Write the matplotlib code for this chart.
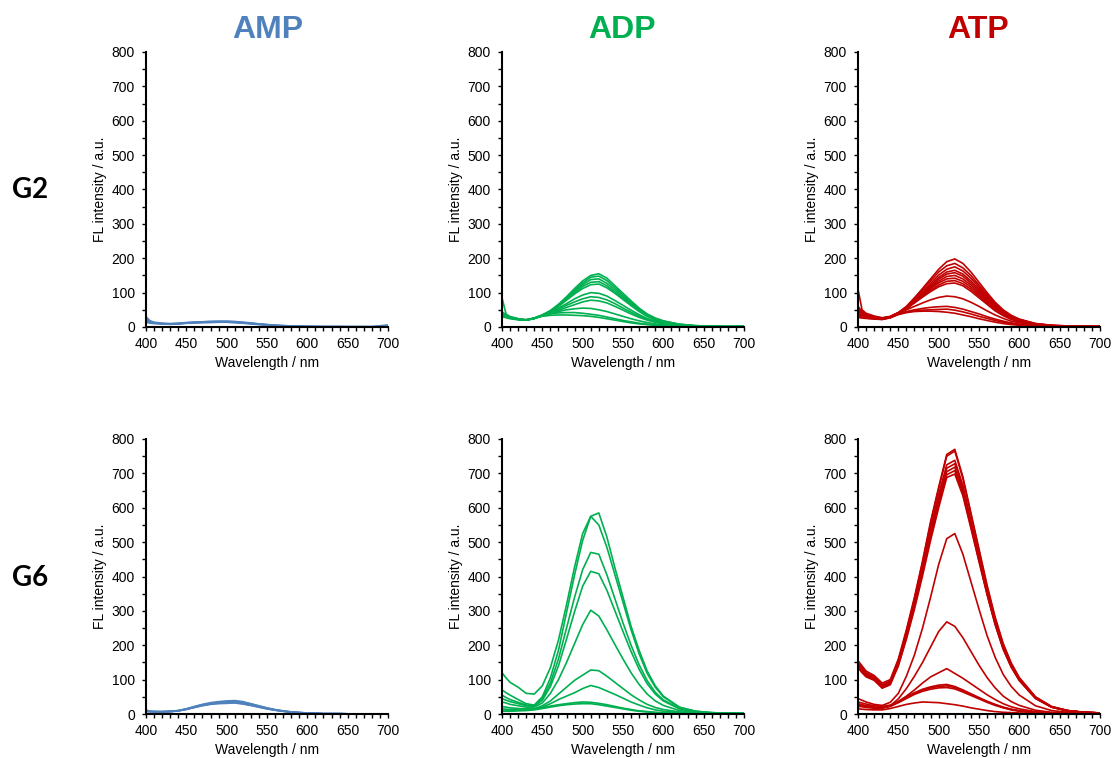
import matplotlib
matplotlib.use("Agg")
import matplotlib.pyplot as plt
from matplotlib.ticker import MultipleLocator

plt.rcParams['font.family'] = ['Liberation Sans', 'DejaVu Sans']

# ---------------- data ----------------
WL = [400, 405, 410, 420, 430, 440, 450, 460, 470, 480, 490, 500, 510, 520,
      530, 540, 550, 560, 570, 580, 590, 600, 620, 640, 660, 680, 700]

AMP_G2 = [
    [30, 18, 14, 11, 10, 11, 13, 14, 15, 16, 16, 16, 15, 13, 11, 9, 7, 5, 4, 3, 2, 2, 1, 1, 1, 1, 6],
    [22, 15, 12, 10, 9, 10, 12, 13, 14, 15, 15, 15, 14, 12, 10, 8, 6, 5, 3, 2, 2, 1, 1, 1, 1, 1, 3],
    [18, 13, 11, 9, 9, 10, 12, 14, 15, 16, 17, 17, 16, 14, 12, 9, 7, 5, 4, 3, 2, 2, 1, 1, 1, 1, 2],
    [14, 11, 10, 9, 8, 9, 11, 12, 13, 14, 14, 14, 13, 12, 10, 8, 6, 4, 3, 2, 2, 1, 1, 1, 0, 0, 1],
    [25, 16, 12, 10, 8, 9, 11, 12, 13, 13, 14, 14, 13, 11, 9, 7, 6, 4, 3, 2, 1, 1, 1, 1, 0, 0, 2],
]

ADP_G2 = [
    [45, 35, 30, 24, 21, 26, 35, 48, 66, 88, 112, 134, 150, 155, 142, 120, 98, 76, 55, 38, 26, 18, 8, 4, 2, 1, 2],
    [40, 33, 28, 23, 20, 25, 34, 47, 64, 85, 108, 128, 145, 148, 135, 114, 93, 72, 52, 36, 25, 17, 8, 4, 2, 1, 2],
    [85, 38, 30, 24, 21, 26, 35, 46, 62, 82, 104, 123, 138, 140, 127, 108, 88, 68, 49, 34, 23, 16, 7, 3, 2, 1, 1],
    [38, 32, 27, 22, 20, 25, 34, 46, 62, 80, 100, 118, 130, 132, 120, 102, 84, 65, 47, 33, 22, 15, 7, 3, 2, 1, 1],
    [42, 34, 29, 23, 20, 25, 34, 45, 60, 78, 96, 112, 123, 125, 114, 98, 80, 62, 45, 31, 21, 14, 6, 3, 2, 1, 1],
    [35, 30, 26, 22, 20, 25, 34, 43, 55, 68, 82, 93, 100, 98, 90, 77, 63, 49, 36, 25, 17, 12, 5, 3, 1, 1, 1],
    [40, 32, 27, 22, 20, 25, 34, 42, 52, 63, 73, 82, 88, 86, 79, 68, 55, 43, 32, 22, 15, 10, 5, 2, 1, 1, 1],
    [36, 30, 26, 22, 20, 25, 33, 40, 48, 57, 65, 73, 78, 76, 70, 60, 49, 38, 28, 20, 14, 9, 4, 2, 1, 1, 1],
    [38, 31, 27, 23, 21, 26, 34, 40, 45, 50, 53, 55, 54, 50, 45, 38, 31, 24, 18, 13, 9, 6, 3, 1, 1, 1, 1],
    [33, 29, 26, 22, 20, 25, 33, 38, 41, 42, 42, 40, 37, 34, 29, 24, 19, 15, 11, 8, 6, 4, 2, 1, 1, 1, 1],
    [30, 27, 24, 21, 20, 25, 31, 34, 35, 35, 34, 33, 31, 28, 24, 20, 16, 12, 9, 7, 5, 3, 2, 1, 1, 1, 1],
]

ATP_G2 = [
    [60, 45, 38, 30, 26, 30, 42, 60, 85, 112, 140, 168, 190, 198, 185, 160, 130, 100, 72, 50, 34, 23, 10, 5, 3, 2, 2],
    [110, 50, 40, 32, 27, 31, 42, 58, 82, 108, 134, 160, 178, 185, 172, 150, 122, 94, 68, 47, 32, 22, 10, 5, 3, 2, 2],
    [50, 40, 34, 28, 24, 29, 40, 56, 78, 102, 127, 151, 168, 175, 163, 142, 116, 89, 64, 45, 31, 21, 9, 4, 3, 2, 2],
    [55, 42, 36, 29, 25, 30, 41, 56, 76, 99, 122, 144, 160, 165, 154, 134, 110, 85, 61, 43, 29, 20, 9, 4, 2, 2, 2],
    [45, 38, 33, 27, 24, 29, 40, 55, 74, 96, 118, 139, 154, 158, 148, 128, 105, 81, 58, 41, 28, 19, 9, 4, 2, 2, 2],
    [40, 35, 31, 26, 23, 28, 39, 53, 72, 93, 114, 133, 147, 150, 140, 122, 100, 77, 55, 39, 27, 18, 8, 4, 2, 2, 2],
    [48, 39, 34, 28, 25, 30, 41, 55, 73, 92, 112, 128, 140, 142, 133, 116, 95, 73, 52, 37, 25, 17, 8, 4, 2, 2, 2],
    [35, 32, 29, 25, 23, 28, 40, 54, 71, 89, 107, 122, 133, 135, 126, 110, 90, 69, 50, 35, 24, 16, 7, 3, 2, 1, 2],
    [42, 36, 32, 27, 24, 29, 40, 53, 70, 87, 103, 117, 126, 128, 120, 104, 85, 66, 47, 33, 22, 15, 7, 3, 2, 1, 2],
    [38, 33, 30, 26, 24, 29, 40, 50, 60, 70, 79, 86, 90, 88, 82, 72, 60, 47, 35, 25, 17, 12, 6, 3, 2, 1, 1],
    [35, 31, 28, 25, 23, 28, 38, 45, 50, 54, 57, 59, 60, 57, 52, 45, 38, 30, 23, 17, 12, 8, 4, 2, 1, 1, 1],
    [30, 28, 26, 24, 22, 27, 37, 43, 47, 49, 50, 51, 52, 49, 44, 38, 31, 25, 19, 14, 10, 7, 3, 2, 1, 1, 1],
    [28, 26, 25, 23, 22, 27, 36, 42, 45, 46, 46, 45, 43, 40, 35, 30, 24, 19, 14, 10, 7, 5, 3, 1, 1, 1, 1],
]

AMP_G6 = [
    [10, 8, 7, 7, 7, 9, 14, 20, 26, 30, 33, 35, 37, 34, 29, 23, 17, 12, 9, 6, 4, 3, 1, 1, 0, 0, 0],
    [8, 7, 7, 7, 8, 10, 15, 21, 27, 31, 34, 36, 34, 30, 25, 20, 15, 11, 8, 5, 4, 3, 1, 1, 0, 0, 0],
    [12, 8, 7, 6, 7, 9, 14, 19, 25, 29, 32, 33, 35, 32, 27, 21, 16, 12, 8, 6, 4, 3, 1, 1, 0, 0, 0],
    [9, 7, 6, 6, 7, 9, 13, 19, 24, 28, 30, 31, 32, 29, 25, 20, 15, 11, 8, 5, 4, 3, 1, 1, 0, 0, 0],
    [7, 7, 7, 7, 8, 10, 15, 22, 28, 33, 36, 38, 39, 36, 30, 24, 18, 13, 9, 6, 4, 3, 1, 1, 0, 0, 0],
]

ADP_G6 = [
    [70, 62, 55, 42, 30, 26, 50, 105, 185, 295, 405, 505, 575, 585, 515, 425, 340, 255, 185, 125, 82, 52, 20, 8, 4, 2, 2],
    [120, 105, 92, 78, 60, 58, 82, 135, 215, 318, 428, 525, 575, 550, 485, 405, 325, 245, 175, 118, 78, 50, 19, 8, 4, 2, 2],
    [55, 48, 42, 34, 26, 24, 45, 90, 160, 250, 340, 420, 470, 465, 405, 335, 265, 200, 143, 97, 63, 41, 16, 7, 3, 2, 2],
    [45, 40, 36, 30, 24, 22, 40, 80, 140, 218, 298, 372, 415, 408, 360, 300, 240, 182, 130, 88, 58, 38, 15, 6, 3, 2, 2],
    [35, 32, 28, 24, 20, 20, 32, 60, 100, 150, 205, 260, 302, 285, 245, 202, 160, 120, 86, 58, 38, 25, 10, 5, 2, 2, 1],
    [22, 20, 18, 16, 15, 15, 24, 38, 58, 78, 98, 113, 128, 126, 110, 92, 74, 56, 41, 28, 19, 13, 6, 3, 2, 1, 1],
    [15, 14, 13, 13, 13, 14, 20, 30, 42, 52, 62, 74, 83, 77, 67, 57, 46, 35, 26, 18, 12, 8, 4, 2, 1, 1, 1],
    [10, 10, 10, 11, 12, 14, 18, 23, 27, 30, 33, 35, 34, 31, 27, 22, 17, 13, 9, 7, 5, 3, 2, 1, 1, 1, 1],
    [8, 8, 8, 9, 10, 12, 16, 20, 24, 27, 29, 30, 30, 27, 23, 19, 15, 11, 8, 6, 4, 3, 2, 1, 1, 1, 1],
]

ATP_G6 = [
    [155, 140, 125, 112, 90, 100, 160, 245, 340, 445, 560, 660, 755, 770, 690, 585, 480, 375, 282, 205, 148, 106, 50, 22, 10, 5, 3],
    [150, 135, 120, 108, 85, 96, 155, 240, 335, 440, 555, 655, 750, 765, 685, 580, 475, 370, 278, 202, 146, 104, 49, 21, 10, 5, 3],
    [148, 132, 118, 106, 84, 95, 152, 235, 328, 430, 540, 638, 725, 738, 665, 562, 460, 360, 270, 196, 142, 101, 48, 21, 10, 5, 3],
    [145, 130, 115, 104, 82, 93, 150, 232, 322, 422, 530, 628, 715, 728, 658, 556, 455, 355, 266, 193, 140, 100, 47, 20, 9, 5, 3],
    [140, 126, 112, 102, 80, 90, 146, 228, 318, 416, 522, 618, 705, 718, 650, 550, 450, 352, 264, 191, 138, 99, 46, 20, 9, 5, 3],
    [138, 124, 110, 100, 78, 88, 142, 222, 312, 410, 515, 610, 696, 708, 642, 545, 447, 350, 262, 190, 137, 98, 46, 20, 9, 5, 3],
    [135, 120, 108, 98, 75, 85, 140, 218, 305, 402, 505, 600, 688, 698, 635, 540, 443, 347, 260, 188, 136, 97, 45, 20, 9, 5, 3],
    [45, 40, 35, 28, 25, 34, 60, 110, 172, 250, 340, 435, 510, 525, 465, 385, 305, 228, 165, 115, 80, 55, 24, 10, 5, 3, 2],
    [30, 27, 24, 20, 18, 24, 44, 74, 110, 150, 195, 240, 268, 255, 222, 182, 142, 106, 76, 52, 36, 25, 11, 5, 3, 2, 1],
    [35, 32, 29, 24, 22, 26, 36, 52, 70, 90, 108, 120, 132, 118, 104, 88, 72, 56, 42, 30, 21, 15, 7, 3, 2, 1, 1],
    [28, 26, 24, 20, 19, 24, 36, 50, 62, 72, 79, 84, 86, 80, 70, 59, 48, 37, 28, 20, 14, 10, 5, 2, 1, 1, 1],
    [25, 23, 21, 18, 18, 23, 34, 47, 59, 69, 76, 80, 82, 77, 68, 57, 46, 36, 27, 19, 13, 9, 4, 2, 1, 1, 1],
    [22, 21, 19, 17, 17, 22, 33, 45, 57, 66, 72, 76, 77, 73, 64, 54, 44, 34, 25, 18, 12, 8, 4, 2, 1, 1, 1],
    [15, 14, 13, 12, 12, 16, 22, 28, 32, 35, 34, 33, 30, 27, 23, 18, 14, 10, 7, 5, 4, 3, 2, 1, 1, 1, 1],
]

COLUMN_TITLES = ["AMP", "ADP", "ATP"]
ROW_LABELS = ["G2", "G6"]
COLORS = ["#4F81BD", "#00B050", "#C00000"]
PANELS = [[AMP_G2, ADP_G2, ATP_G2], [AMP_G6, ADP_G6, ATP_G6]]

# ---------------- figure ----------------
W, H = 1114, 758
fig = plt.figure(figsize=(W / 100, H / 100), dpi=100)

col_left = [146, 502, 858]
ax_w = 242
row_top = [52, 439]
ax_h = 275

for r in range(2):
    for c in range(3):
        x0 = col_left[c] / W
        y0 = 1 - (row_top[r] + ax_h) / H
        ax = fig.add_axes([x0, y0, ax_w / W, ax_h / H])
        for curve in PANELS[r][c]:
            ax.plot(WL, curve, color=COLORS[c], lw=1.2, solid_joinstyle='round')
        ax.set_xlim(400, 700)
        ax.set_ylim(0, 800)
        ax.xaxis.set_major_locator(MultipleLocator(50))
        ax.xaxis.set_minor_locator(MultipleLocator(10))
        ax.yaxis.set_major_locator(MultipleLocator(100))
        ax.yaxis.set_minor_locator(MultipleLocator(50))
        for s in ['top', 'right']:
            ax.spines[s].set_visible(False)
        for s in ['left', 'bottom']:
            ax.spines[s].set_linewidth(1.5)
        ax.tick_params(which='major', direction='out', length=3.0, width=1.0,
                       labelsize=10, colors='black')
        ax.tick_params(axis='x', which='major', pad=4)
        ax.tick_params(axis='y', which='major', pad=5)
        ax.tick_params(which='minor', direction='out', length=3.0, width=1.0)
        ax.set_xlabel("Wavelength / nm", fontsize=10, labelpad=4)
        ax.set_ylabel("FL intensity / a.u.", fontsize=10, labelpad=3)

# column titles
title_x = [268, 622, 978]
for c in range(3):
    fig.text(title_x[c] / W, 1 - 30 / H, COLUMN_TITLES[c], color=COLORS[c],
             fontsize=23, fontweight='bold', ha='center', va='center')

# row labels
row_y = [190, 578]
for r in range(2):
    fig.text(30 / W, 1 - row_y[r] / H, ROW_LABELS[r], color='black',
             fontsize=20, fontweight='bold', ha='center', va='center',
             family=['Lato', 'DejaVu Sans'])

fig.savefig("out.png", dpi=100)
